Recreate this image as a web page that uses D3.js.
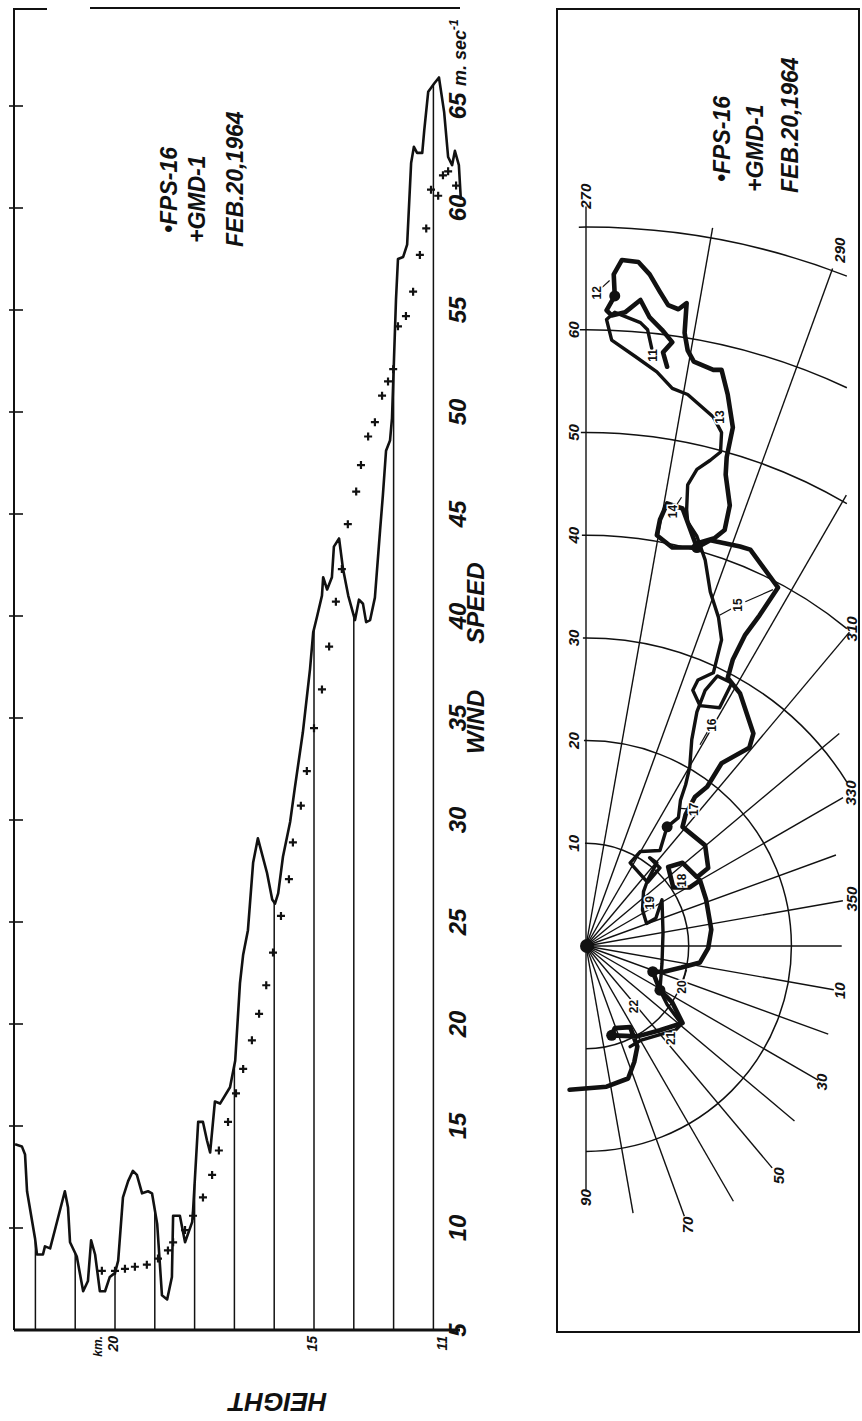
<!DOCTYPE html>
<html>
<head>
<meta charset="utf-8">
<script src="https://cdnjs.cloudflare.com/ajax/libs/d3/7.8.5/d3.min.js"></script>
<style>
  body { margin: 0; background: #fff; }
  svg text { font-family: 'Liberation Sans', Arial, sans-serif; font-style: italic; font-weight: bold; fill: #111; }
</style>
</head>
<body>
<script>
//FPS-16 wind speed profile, height in km and speed in m/s
var fpsHeight = [22.51, 22.34, 22.26, 22.21, 22.01, 21.96, 21.81, 21.76, 21.63, 21.51,
    21.26, 21.18, 21.13, 20.96, 20.80, 20.68, 20.60, 20.50, 20.38, 20.25,
    20.13, 20.00, 19.92, 19.80, 19.67, 19.55, 19.45, 19.32, 19.17, 19.07,
    18.94, 18.82, 18.69, 18.57, 18.54, 18.37, 18.24, 18.06, 18.04, 17.91,
    17.79, 17.69, 17.61, 17.49, 17.36, 17.11, 16.98, 16.86, 16.78, 16.66,
    16.53, 16.41, 16.18, 16.05, 15.98, 15.90, 15.78, 15.60, 15.48, 15.28,
    15.10, 15.02, 14.92, 14.80, 14.77, 14.67, 14.55, 14.50, 14.37, 14.27,
    14.14, 13.97, 13.87, 13.77, 13.69, 13.59, 13.47, 13.34, 13.27, 13.19,
    13.09, 13.04, 12.99, 12.94, 12.89, 12.76, 12.66, 12.56, 12.49, 12.41,
    12.28, 12.23, 12.13, 11.98, 11.86, 11.73, 11.63, 11.53, 11.46, 11.36, 11.31];
var fpsSpeed = [14.1, 14.0, 13.6, 11.8, 9.5, 8.7, 8.7, 9.1, 9.0, 9.9,
    11.8, 11.0, 9.3, 8.6, 6.9, 7.4, 9.4, 8.7, 6.9, 6.9,
    7.6, 7.8, 8.4, 11.5, 12.3, 12.8, 12.6, 11.7, 11.8, 11.7,
    10.2, 6.7, 6.5, 7.6, 10.6, 10.6, 9.3, 10.3, 10.8, 15.2,
    15.2, 14.3, 13.7, 16.2, 16.1, 16.9, 18.2, 22.0, 23.4, 24.6,
    27.9, 29.1, 27.4, 26.1, 25.9, 26.4, 28.2, 29.9, 31.6, 34.3,
    37.4, 39.2, 40.0, 41.0, 41.9, 41.3, 41.9, 43.4, 43.8, 42.3,
    41.0, 39.8, 40.8, 40.6, 39.7, 39.8, 40.9, 44.2, 45.9, 48.1,
    48.6, 49.7, 52.6, 55.5, 57.5, 57.6, 58.2, 62.2, 63.0, 62.7,
    62.7, 63.8, 65.7, 66.1, 66.4, 64.7, 62.5, 62.1, 62.8, 62.1, 60.4];

//GMD-1 soundings
var gmdHeight = [20.33, 20.00, 19.75, 19.50, 19.20, 18.92, 18.67, 18.54, 18.24, 18.04,
    17.79, 17.56, 17.39, 17.16, 16.96, 16.78, 16.56, 16.38, 16.20, 16.03,
    15.83, 15.63, 15.53, 15.33, 15.18, 15.00, 14.80, 14.62, 14.45, 14.30,
    14.15, 13.94, 13.82, 13.64, 13.47, 13.29, 13.14, 13.01, 12.89, 12.69,
    12.51, 12.34, 12.18, 12.06, 11.88, 11.76, 11.63, 11.43];
var gmdSpeed = [7.9, 7.9, 8.0, 8.1, 8.2, 8.5, 8.9, 9.3, 9.9, 10.6,
    11.5, 12.6, 13.8, 15.2, 16.6, 17.8, 19.2, 20.5, 21.9, 23.5,
    25.3, 27.1, 28.9, 30.7, 32.4, 34.5, 36.4, 38.5, 40.7, 42.3,
    44.5, 46.1, 47.4, 48.8, 49.5, 50.8, 51.5, 52.1, 54.2, 54.7,
    55.9, 57.7, 59.0, 60.9, 60.6, 61.6, 61.8, 61.1];

var speedTicks = [5, 10, 15, 20, 25, 30, 35, 40, 45, 50, 55, 60, 65];
var heightLines = [12, 13, 14, 15, 16, 17, 18, 19, 20, 21, 22];
var heightLabels = [20, 15, 11];

//Hodograph: westerly (up) and northerly (right) components, m/s
var hodoNorthA = [7.9, 7.5, 8.4, 7.4, 6.2, 5.3, 3.8, 2.5, 2.0, 2.8,
    2.7, 3.5, 5.1, 6.2, 7.2, 8.0, 9.0, 9.8, 9.6, 9.9,
    10.5, 12.4, 13.2, 13.8, 14.3, 13.7, 13.6, 14.0, 13.5, 12.5,
    11.1, 10.8, 8.4, 6.9, 7.2, 7.9, 9.4, 10.8, 12.1, 15.0,
    16.0, 18.7, 16.9, 15.5, 14.3, 13.8, 15.0, 16.3, 15.9, 13.2,
    11.8, 10.6, 9.7, 9.4, 11.6, 11.9, 10.8, 9.4, 8.0, 8.5,
    10.1, 11.1, 11.7, 12.2, 11.9, 11.1, 9.3, 7.6, 6.5, 7.2,
    8.4, 9.4, 7.2, 5.0, 2.5, 2.8, 4.3, 5.0, 4.7, 4.1,
    2.0, -1.6];
var hodoWestA = [56.4, 57.8, 58.8, 60.0, 61.2, 62.9, 61.7, 61.4, 61.9, 63.3,
    65.4, 66.8, 66.6, 65.4, 63.7, 62.4, 62.0, 62.6, 59.7, 58.0,
    56.9, 56.1, 56.1, 53.7, 50.5, 47.6, 45.9, 42.9, 40.5, 39.7,
    39.3, 38.8, 38.8, 40.0, 41.5, 43.1, 42.6, 38.8, 39.5, 38.9,
    38.6, 34.9, 32.2, 30.3, 27.9, 26.1, 24.6, 20.7, 19.3, 17.8,
    15.5, 14.5, 12.8, 11.6, 9.8, 7.6, 6.7, 8.1, 7.7, 5.7,
    5.7, 6.4, 4.5, 1.6, -0.2, -1.6, -2.1, -2.5, -2.5, -4.3,
    -5.5, -7.5, -8.2, -8.8, -8.7, -8.0, -7.9, -9.8, -11.3, -12.9,
    -13.7, -14.0];
var hodoNorthB = [6.4, 6.0, 5.3, 2.8, 2.0, 2.5, 4.8, 6.9, 8.4, 9.9,
    12.4, 13.2, 13.1, 12.1, 10.8, 9.9, 9.8, 9.9, 10.8, 11.6,
    12.1, 12.9, 13.2, 12.4, 10.9, 10.4, 11.1, 13.0, 14.2, 12.8,
    11.6, 10.8, 10.3, 10.1, 9.7, 9.2, 9.0, 7.9, 7.2, 5.3,
    4.3, 6.0, 7.2, 6.2, 6.9, 6.0, 5.6, 5.5, 5.9, 6.8,
    7.4, 7.5, 7.4, 7.2, 7.9, 9.3, 8.7, 5.3, 4.3];
var hodoWestB = [58.2, 60.0, 60.7, 61.7, 61.0, 59.0, 57.4, 55.9, 54.3, 53.7,
    51.5, 50.0, 48.1, 47.3, 46.4, 44.9, 42.5, 41.3, 39.9, 37.6,
    34.5, 32.0, 29.8, 26.6, 25.9, 24.9, 23.4, 23.2, 25.6, 26.3,
    24.9, 22.8, 20.1, 17.4, 15.7, 14.2, 12.5, 11.6, 9.3, 9.2,
    8.1, 6.2, 7.6, 8.6, 8.1, 6.4, 5.3, 3.5, 2.2, 2.7,
    4.5, 1.3, -1.7, -4.3, -5.7, -7.6, -8.2, -9.2, -9.8];
var blobsA = [9, 31, 68, 69, 74];
var blobsB = [37];

//Height (km) labels along the hodograph
var hodoKm = [11, 12, 13, 14, 15, 16, 17, 18, 19, 20, 21, 22];
var hodoKmNorth = [6.5, 1.0, 13.0, 8.4, 14.8, 12.2, 10.5, 9.3, 6.2, 9.3, 8.2, 4.6];
var hodoKmWest = [57.5, 63.6, 51.5, 42.3, 33.2, 21.5, 13.3, 6.4, 4.2, -4.0, -9.0, -5.9];
var leaderKm = [12, 14, 15, 15, 16, 17, 20];
var leaderNorth = [2.3, 9.3, 13.0, 18.2, 11.1, 9.2, 9.8];
var leaderWest = [64.8, 43.7, 32.2, 34.7, 19.6, 13.4, -2.3];

//Polar grid
var ringSpeeds = [10, 20, 30, 40, 50, 60, 70];
var ringLabels = [10, 20, 30, 40, 50, 60];
var spokeDirs = [270, 280, 290, 300, 310, 320, 330, 340, 350, 0, 10, 20, 30, 40, 50, 60, 70, 80, 90];
var spokeReach = [72.0, 71.0, 70.2, 50.7, 39.9, 32.2, 28.9, 25.9, 25.4, 24.9, 24.5, 25.1, 26.1, 26.5, 28.2, 28.7, 28.0, 26.4, 23.8];
var dirLabels = [270, 290, 310, 330, 350, 10, 30, 50, 70, 90];
var dirLabelSpeed = [73.0, 72.1, 40.3, 29.8, 26.3, 25.1, 26.5, 29.2, 28.9, 24.5];

var legendLines = ['\u2022FPS-16', '+GMD-1', 'FEB.20,1964'];

const svg = d3.select('body').append('svg')
    .attr('width', 862)
    .attr('height', 1421);

//Text that reads from bottom to top
function vText(g, x, y, txt, size, anchor) {
    return g.append('text')
        .attr('transform', 'translate(' + x + ',' + y + ') rotate(-90)')
        .attr('text-anchor', anchor)
        .style('font-size', size + 'px')
        .text(txt);
}

// ---------------- left panel ----------------
const left = svg.append('g');
const hx = d3.scaleLinear().domain([20, 15]).range([115, 314]);
const vy = d3.scaleLinear().domain([5, 65]).range([1330, 106]);

//frame
left.append('path')
    .attr('d', 'M14,1330V9H47M90,8H460')
    .attr('fill', 'none').attr('stroke', '#111').attr('stroke-width', 2);
left.append('line')
    .attr('x1', 14).attr('x2', 460).attr('y1', vy(5)).attr('y2', vy(5))
    .attr('stroke', '#111').attr('stroke-width', 3);
left.selectAll('.vtick')
    .data(speedTicks.slice(1))
    .enter().append('line')
    .attr('x1', 9).attr('x2', 23)
    .attr('y1', function(d) { return vy(d); })
    .attr('y2', function(d) { return vy(d); })
    .attr('stroke', '#111').attr('stroke-width', 1.6);

//speed at a given height on the FPS-16 curve
function fpsAt(h) {
    for(var i = 0; i < fpsHeight.length - 1; i++) {
        if(fpsHeight[i] >= h && fpsHeight[i + 1] <= h) {
            var t = (fpsHeight[i] - h) / (fpsHeight[i] - fpsHeight[i + 1]);
            return fpsSpeed[i] + t * (fpsSpeed[i + 1] - fpsSpeed[i]);
        }
    }
    return fpsSpeed[fpsSpeed.length - 1];
}
left.selectAll('.hline')
    .data(heightLines)
    .enter().append('line')
    .attr('x1', function(d) { return hx(d); })
    .attr('x2', function(d) { return hx(d); })
    .attr('y1', function(d) { return vy(fpsAt(d)); })
    .attr('y2', vy(5))
    .attr('stroke', '#111').attr('stroke-width', 1.5);

const fpsLine = d3.line()
    .x(function(d) { return hx(fpsHeight[d]); })
    .y(function(d) { return vy(fpsSpeed[d]); });
left.append('path')
    .attr('d', fpsLine(d3.range(fpsHeight.length)))
    .attr('fill', 'none').attr('stroke', '#111')
    .attr('stroke-width', 2.6).attr('stroke-linejoin', 'round');

left.selectAll('.gmd')
    .data(d3.range(gmdHeight.length))
    .enter().append('path')
    .attr('transform', function(d) { return 'translate(' + hx(gmdHeight[d]) + ',' + vy(gmdSpeed[d]) + ')'; })
    .attr('d', 'M-4,0H4M0,-4V4')
    .attr('stroke', '#111').attr('stroke-width', 2.2);

//axis labels
speedTicks.forEach(function(v) {
    vText(left, 466, vy(v), String(v), 24, 'middle');
});
var unit = vText(left, 466, vy(65) - 20, 'm. sec', 18, 'start');
unit.append('tspan').attr('dy', -8).style('font-size', '12px').text('-1');
vText(left, 484, 722, 'WIND', 24, 'middle');
vText(left, 484, 603, 'SPEED', 24, 'middle');
heightLabels.forEach(function(h) {
    vText(left, Math.min(hx(h) + 3, 447), 1336, String(h), 14, 'end');
});
vText(left, hx(20) - 13, 1336, 'km.', 12, 'end');
left.append('text')
    .attr('transform', 'translate(278,1393) rotate(180)')
    .attr('text-anchor', 'middle')
    .style('font-size', '26px')
    .text('HEIGHT');

legendLines.forEach(function(t, i) {
    vText(left, [177, 205, 243][i], [233, 243, 247][i], t, 23, 'start');
});

// ---------------- right panel: hodograph ----------------
const right = svg.append('g');
const cx = 586, cy = 946;
const sp = d3.scaleLinear().domain([0, 10]).range([0, 102.7]);
const clipSpeed = 25.4;
function rad(deg) { return deg * Math.PI / 180; }
function polar(dir, s) {
    var a = rad(((dir - 270) % 360 + 360) % 360);
    return [cx + sp(s) * Math.sin(a), cy - sp(s) * Math.cos(a)];
}

right.append('rect')
    .attr('x', 557).attr('y', 9).attr('width', 302).attr('height', 1323)
    .attr('fill', 'none').attr('stroke', '#111').attr('stroke-width', 2);

right.selectAll('.ring')
    .data(ringSpeeds)
    .enter().append('path')
    .attr('d', function(r) {
        var end = r <= clipSpeed ? Math.PI : Math.asin(clipSpeed / r);
        var p = d3.path();
        p.arc(cx, cy, sp(r), -Math.PI / 2 - 0.01, end - Math.PI / 2);
        return p.toString();
    })
    .attr('fill', 'none').attr('stroke', '#111').attr('stroke-width', 1.5);

right.selectAll('.spoke')
    .data(d3.range(spokeDirs.length))
    .enter().append('line')
    .attr('x1', cx).attr('y1', cy)
    .attr('x2', function(i) { return polar(spokeDirs[i], spokeReach[i])[0]; })
    .attr('y2', function(i) { return polar(spokeDirs[i], spokeReach[i])[1]; })
    .attr('stroke', '#111').attr('stroke-width', 1.4);
right.append('circle').attr('cx', cx + 1).attr('cy', cy).attr('r', 7).attr('fill', '#111');

ringLabels.forEach(function(r) {
    vText(right, 579, cy - sp(r), String(r), 15, 'middle');
});
dirLabels.forEach(function(d, i) {
    var p = polar(d, dirLabelSpeed[i]);
    vText(right, p[0] + 5.4, p[1], String(d), 15, 'middle');
});

const hodoLine = d3.line().curve(d3.curveLinear);
function hodoPts(north, west) {
    return north.map(function(n, i) { return [cx + sp(n), cy - sp(west[i])]; });
}
var ptsA = hodoPts(hodoNorthA, hodoWestA);
var ptsB = hodoPts(hodoNorthB, hodoWestB);
right.append('path')
    .attr('d', hodoLine(ptsB))
    .attr('fill', 'none').attr('stroke', '#111')
    .attr('stroke-width', 3.4).attr('stroke-linejoin', 'round').attr('stroke-linecap', 'round');
right.append('path')
    .attr('d', hodoLine(ptsA))
    .attr('fill', 'none').attr('stroke', '#111')
    .attr('stroke-width', 4.6).attr('stroke-linejoin', 'round').attr('stroke-linecap', 'round');
blobsA.forEach(function(i) {
    right.append('circle').attr('cx', ptsA[i][0]).attr('cy', ptsA[i][1]).attr('r', 5.5).attr('fill', '#111');
});
blobsB.forEach(function(i) {
    right.append('circle').attr('cx', ptsB[i][0]).attr('cy', ptsB[i][1]).attr('r', 5.5).attr('fill', '#111');
});

//leader lines from the km labels
leaderKm.forEach(function(k, i) {
    var j = hodoKm.indexOf(k);
    var x0 = cx + sp(hodoKmNorth[j]), y0 = cy - sp(hodoKmWest[j]);
    var x1 = cx + sp(leaderNorth[i]), y1 = cy - sp(leaderWest[i]);
    var len = Math.hypot(x1 - x0, y1 - y0);
    var gap = Math.min(8, len / 2);
    right.append('line')
        .attr('x1', x0 + (x1 - x0) * gap / len).attr('y1', y0 + (y1 - y0) * gap / len)
        .attr('x2', x1).attr('y2', y1)
        .attr('stroke', '#111').attr('stroke-width', 1.2);
});
hodoKm.forEach(function(k, i) {
    vText(right, cx + sp(hodoKmNorth[i]) + 4.3, cy - sp(hodoKmWest[i]), String(k), 12, 'middle')
        .style('font-style', 'normal')
        .style('stroke', '#fff').style('stroke-width', 3)
        .style('paint-order', 'stroke');
});

legendLines.forEach(function(t, i) {
    vText(right, [730, 763, 798][i], [182, 192, 193][i], t, 23, 'start');
});
</script>
</body>
</html>
